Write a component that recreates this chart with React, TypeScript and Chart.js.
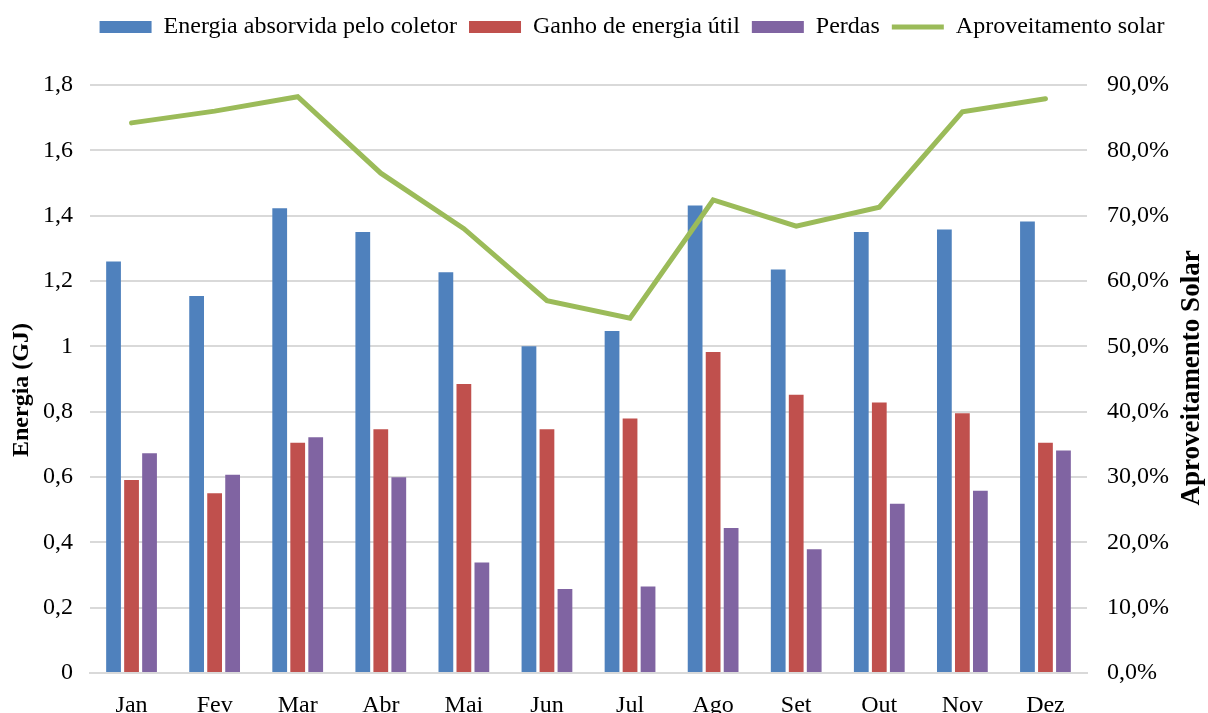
import React, { useEffect, useRef } from 'react';
import { Chart, registerables } from 'chart.js';

Chart.register(...registerables);

const months = ['Jan', 'Fev', 'Mar', 'Abr', 'Mai', 'Jun', 'Jul', 'Ago', 'Set', 'Out', 'Nov', 'Dez'];
const energiaAbsorvida = [1.26, 1.154, 1.423, 1.35, 1.227, 1.0, 1.047, 1.431, 1.235, 1.35, 1.358, 1.382];
const ganhoUtil = [0.591, 0.55, 0.705, 0.746, 0.885, 0.746, 0.779, 0.983, 0.852, 0.828, 0.795, 0.705];
const perdas = [0.673, 0.607, 0.722, 0.599, 0.338, 0.257, 0.265, 0.444, 0.379, 0.518, 0.558, 0.681];
const aproveitamento = [0.842, 0.86, 0.882, 0.765, 0.68, 0.57, 0.543, 0.724, 0.684, 0.713, 0.859, 0.879];
const leftTickLabels = ['0', '0,2', '0,4', '0,6', '0,8', '1', '1,2', '1,4', '1,6', '1,8'];
const rightTickLabels = ['0,0%', '10,0%', '20,0%', '30,0%', '40,0%', '50,0%', '60,0%', '70,0%', '80,0%', '90,0%'];
const seriesNames = ['Energia absorvida pelo coletor', 'Ganho de energia útil', 'Perdas', 'Aproveitamento solar'];
const leftTitle = 'Energia (GJ)';
const rightTitle = 'Aproveitamento Solar';

const FONT = '"Liberation Serif", "Times New Roman", serif';

export default function App() {
  const ref = useRef<HTMLCanvasElement | null>(null);

  useEffect(() => {
    document.body.style.margin = '0';
    const canvas = ref.current;
    if (!canvas) return;

    const legendHeight = {
      id: 'legendHeight',
      beforeInit(chart: any) {
        const legend = chart.legend;
        if (!legend) return;
        const orig = legend.fit;
        legend.fit = function () {
          orig.call(this);
          this.height = 82;
          if (this.lineWidths && this.lineWidths.length) {
            this.lineWidths[0] -= 56;
          }
        };
      },
    };

    const axisTitles = {
      id: 'axisTitles',
      afterDraw(chart: any) {
        const ctx = chart.ctx;
        ctx.save();
        ctx.font = `bold 24px ${FONT}`;
        ctx.fillStyle = '#000';
        ctx.textAlign = 'center';
        ctx.textBaseline = 'middle';
        ctx.translate(22, 390);
        ctx.rotate(-Math.PI / 2);
        ctx.fillText(leftTitle, 0, 0);
        ctx.restore();
        ctx.save();
        ctx.font = `bold 27px ${FONT}`;
        ctx.fillStyle = '#000';
        ctx.textAlign = 'center';
        ctx.textBaseline = 'middle';
        ctx.translate(1192, 378);
        ctx.rotate(-Math.PI / 2);
        ctx.fillText(rightTitle, 0, 0);
        ctx.restore();
      },
    };

    const chart = new Chart(canvas, {
      type: 'bar',
      data: {
        labels: months,
        datasets: [
          {
            type: 'bar',
            label: seriesNames[0],
            data: energiaAbsorvida,
            backgroundColor: '#4F81BD',
            yAxisID: 'y',
            order: 2,
            pointStyle: 'rect',
          },
          {
            type: 'bar',
            label: seriesNames[1],
            data: ganhoUtil,
            backgroundColor: '#C0504D',
            yAxisID: 'y',
            order: 3,
            pointStyle: 'rect',
          },
          {
            type: 'bar',
            label: seriesNames[2],
            data: perdas,
            backgroundColor: '#8064A2',
            yAxisID: 'y',
            order: 4,
            pointStyle: 'rect',
          },
          {
            type: 'line',
            label: seriesNames[3],
            data: aproveitamento,
            borderColor: '#9BBB59',
            backgroundColor: '#9BBB59',
            borderWidth: 5,
            borderCapStyle: 'round',
            pointRadius: 0,
            pointHoverRadius: 0,
            tension: 0,
            yAxisID: 'y1',
            order: 1,
            pointStyle: 'line',
          } as any,
        ],
      },
      options: {
        animation: false,
        responsive: false,
        devicePixelRatio: 1,
        layout: { padding: { top: 3, left: 0, right: 0, bottom: 0 } },
        datasets: {
          bar: { categoryPercentage: 0.65, barPercentage: 0.82 },
        },
        plugins: {
          tooltip: { enabled: false },
          legend: {
            position: 'top',
            align: 'center',
            labels: {
              usePointStyle: true,
              pointStyleWidth: 52,
              boxHeight: 12,
              padding: 12,
              color: '#000',
              font: { family: FONT, size: 24 },
              sort: (a: any, b: any) => a.datasetIndex - b.datasetIndex,
            },
          },
        },
        scales: {
          x: {
            grid: { display: false },
            border: { display: true, color: '#D9D9D9', width: 2 },
            ticks: { color: '#000', font: { family: FONT, size: 24 }, padding: 10 },
            afterFit: (s: any) => {
              s.height = 40;
            },
          },
          y: {
            position: 'left',
            min: 0,
            max: 1.8,
            ticks: {
              stepSize: 0.2,
              color: '#000',
              font: { family: FONT, size: 24 },
              padding: 17,
              callback: (v: any) => leftTickLabels[Math.round(Number(v) / 0.2)],
            },
            grid: { color: '#D9D9D9', lineWidth: 2, drawTicks: false },
            border: { display: false },
            afterFit: (s: any) => {
              s.width = 90;
            },
          },
          y1: {
            position: 'right',
            min: 0,
            max: 0.9,
            ticks: {
              stepSize: 0.1,
              color: '#000',
              font: { family: FONT, size: 24 },
              padding: 20,
              callback: (v: any) => rightTickLabels[Math.round(Number(v) / 0.1)],
            },
            grid: { drawOnChartArea: false, drawTicks: false },
            border: { display: false },
            afterFit: (s: any) => {
              s.width = 121;
            },
          },
        },
      } as any,
      plugins: [legendHeight, axisTitles],
    });

    return () => chart.destroy();
  }, []);

  return (
    <div style={{ position: 'absolute', left: 0, top: 0, width: 1208, height: 713 }}>
      <canvas ref={ref} width={1208} height={713} style={{ display: 'block' }} />
    </div>
  );
}
